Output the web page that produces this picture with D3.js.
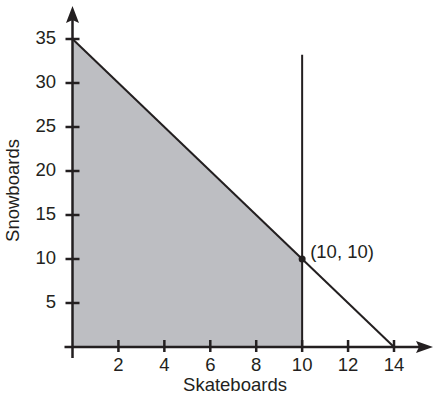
<!DOCTYPE html>
<html>
<head>
<meta charset="utf-8">
<script src="https://cdn.jsdelivr.net/npm/d3@7"></script>
<style>
  body { margin: 0; background: #fff; }
  text { font-family: "Liberation Sans", Arial, sans-serif; fill: #231f20; }
</style>
</head>
<body>
<svg id="chart" width="434" height="397"></svg>
<script>
// data
var xTicks = [2, 4, 6, 8, 10, 12, 14];
var yTicks = [5, 10, 15, 20, 25, 30, 35];
var region = [[0, 0], [0, 35], [10, 10], [10, 0]];   // shaded feasible region
var budgetLine = [[0, 35], [14, 0]];                  // diagonal constraint
var limitLine = [[10, 0], [10, 33.2]];                // vertical constraint x = 10
var corner = {x: 10, y: 10, label: "(10, 10)"};

var INK = "#231f20";
var FS = 18.5;
var svg = d3.select("#chart");

var x = d3.scaleLinear().domain([0, 14]).range([72.5, 394]);
var y = d3.scaleLinear().domain([0, 35]).range([347, 39]);

var line = d3.line().x(function(d){ return x(d[0]); }).y(function(d){ return y(d[1]); });

// shaded region
svg.append("path")
    .attr("d", line(region) + "Z")
    .attr("fill", "#bdbec2");

// constraint lines
svg.append("path").attr("d", line(budgetLine))
    .attr("stroke", INK).attr("stroke-width", 2).attr("fill", "none");
svg.append("path").attr("d", line(limitLine))
    .attr("stroke", INK).attr("stroke-width", 2).attr("fill", "none");

// axes
var axisG = svg.append("g");
axisG.append("line")
    .attr("x1", x(0) - 8).attr("x2", 420)
    .attr("y1", y(0)).attr("y2", y(0))
    .attr("stroke", INK).attr("stroke-width", 2.5);
axisG.append("line")
    .attr("x1", x(0)).attr("x2", x(0))
    .attr("y1", y(0) + 11).attr("y2", 20)
    .attr("stroke", INK).attr("stroke-width", 2.5);
// arrowheads
axisG.append("path")
    .attr("d", "M433," + y(0) + " L416," + (y(0) - 6) + " L419," + y(0) + " L416," + (y(0) + 6) + "Z")
    .attr("fill", INK);
axisG.append("path")
    .attr("d", "M" + x(0) + ",6 L" + (x(0) - 6.5) + ",23 L" + x(0) + ",20 L" + (x(0) + 6.5) + ",23Z")
    .attr("fill", INK);

// x ticks
var xt = axisG.selectAll(".xt").data(xTicks).enter().append("g")
    .attr("transform", function(d){ return "translate(" + x(d) + "," + y(0) + ")"; });
xt.append("line").attr("y1", -7).attr("y2", 5)
    .attr("stroke", INK).attr("stroke-width", 2.5);
xt.append("text").attr("y", 24).attr("text-anchor", "middle")
    .attr("font-size", FS).text(function(d){ return d; });

// y ticks
var yt = axisG.selectAll(".yt").data(yTicks).enter().append("g")
    .attr("transform", function(d){ return "translate(" + x(0) + "," + y(d) + ")"; });
yt.append("line").attr("x1", -7).attr("x2", 7)
    .attr("stroke", INK).attr("stroke-width", 2.5);
yt.append("text").attr("x", -16.5).attr("dy", "0.28em").attr("text-anchor", "end")
    .attr("font-size", FS).text(function(d){ return d; });

// corner point
svg.append("circle").attr("cx", x(corner.x)).attr("cy", y(corner.y)).attr("r", 3.5).attr("fill", INK);
svg.append("text").attr("x", x(corner.x) + 8).attr("y", y(corner.y) - 1)
    .attr("font-size", FS).text(corner.label);

// axis titles
svg.append("text").attr("x", 235).attr("y", 390.5).attr("text-anchor", "middle")
    .attr("font-size", FS).text("Skateboards");
svg.append("text").attr("transform", "translate(18.5,190.5) rotate(-90)")
    .attr("text-anchor", "middle").attr("font-size", FS).text("Snowboards");
</script>
</body>
</html>
